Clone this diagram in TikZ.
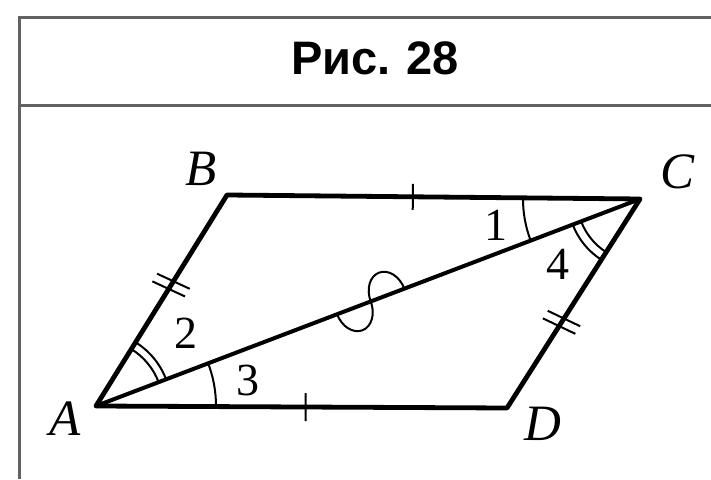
\documentclass[tikz,border=0pt]{standalone}
\usepackage{fontspec}
\setmainfont{Liberation Serif}
\newfontfamily\titlefont{Liberation Sans}
\usetikzlibrary{calc,angles}
\tikzset{
  frameline/.style={draw=black!62, line width=3pt},
  side/.style={line width=4.8pt, line join=round, line cap=round},
  diag/.style={line width=4pt, line cap=round},
  tickmark/.style={line width=2pt},
  arcmark/.style={draw, line width=2pt},
  vlabel/.style={font=\fontsize{51}{53}\selectfont\itshape, inner sep=0pt},
  nlabel/.style={font=\fontsize{46}{48}\selectfont, inner sep=0pt},
}
\begin{document}
\begin{tikzpicture}[x=1pt,y=1pt]
\useasboundingbox (0,0) rectangle (711,479);
% frame
\draw[frameline] (19,0) coordinate (fl) -- (19,461) coordinate (ft) -- (711,461) coordinate (fr);
\draw[frameline] (19,373) coordinate (sl) -- (711,373) coordinate (sr);
\node[font=\titlefont\bfseries\fontsize{47}{49}\selectfont, inner sep=0pt] (title) at (375,421) {Рис.\,\,28};
% vertices
\coordinate (A) at (96,73);
\coordinate (B) at (227,284);
\coordinate (C) at (640,280);
\coordinate (D) at (507,71);
% sides and diagonal
\draw[side] (A) -- (B) -- (C) -- (D) -- cycle;
\draw[diag] (A) -- (C);
% angle arcs
\pic[arcmark, angle radius=117pt] {angle=B--C--A};
\pic[arcmark, angle radius=63pt] {angle=A--C--D};
\pic[arcmark, angle radius=72pt] {angle=A--C--D};
\pic[arcmark, angle radius=67pt] {angle=C--A--B};
\pic[arcmark, angle radius=75pt] {angle=C--A--B};
\pic[arcmark, angle radius=120pt] {angle=D--A--C};
% single ticks
\coordinate (tbc) at ($(B)!0.45!(C)$);
\coordinate (tad) at ($(A)!0.51!(D)$);
\draw[tickmark] ($(tbc)!13pt!90:(C)$) -- ($(tbc)!13pt!-90:(C)$);
\draw[tickmark] ($(tad)!14pt!90:(D)$) -- ($(tad)!14pt!-90:(D)$);
% double ticks
\coordinate (tab) at ($(A)!0.573!(B)$);
\coordinate (tab1) at ($(tab)!4.5pt!(B)$);
\coordinate (tab2) at ($(tab)!4.5pt!(A)$);
\draw[tickmark] ($(tab1)!18pt!97:(B)$) -- ($(tab1)!18pt!-83:(B)$);
\draw[tickmark] ($(tab2)!18pt!97:(B)$) -- ($(tab2)!18pt!-83:(B)$);
\coordinate (tcd) at ($(D)!0.41!(C)$);
\coordinate (tcd1) at ($(tcd)!4.5pt!(C)$);
\coordinate (tcd2) at ($(tcd)!4.5pt!(D)$);
\draw[tickmark] ($(tcd1)!18pt!97:(C)$) -- ($(tcd1)!18pt!-83:(C)$);
\draw[tickmark] ($(tcd2)!18pt!97:(C)$) -- ($(tcd2)!18pt!-83:(C)$);
% S mark on diagonal
\coordinate (mac) at ($(A)!0.505!(C)$);
\begin{scope}[shift={(mac)}, rotate=20.8]
  \draw[tickmark] (-36,0) arc[start angle=180, end angle=360, x radius=18, y radius=24]
                 arc[start angle=180, end angle=0, x radius=18, y radius=24];
\end{scope}
% labels
\node[vlabel] (lA) at (65,60) {A};
\node[vlabel] (lB) at (201,310) {B};
\node[vlabel] (lC) at (677,307) {C};
\node[vlabel] (lD) at (543,55) {D};
\node[nlabel] (n1) at (496,254) {1};
\node[nlabel] (n2) at (186,146) {2};
\node[nlabel] (n3) at (248,99) {3};
\node[nlabel] (n4) at (558,215) {4};
\end{tikzpicture}
\end{document}
